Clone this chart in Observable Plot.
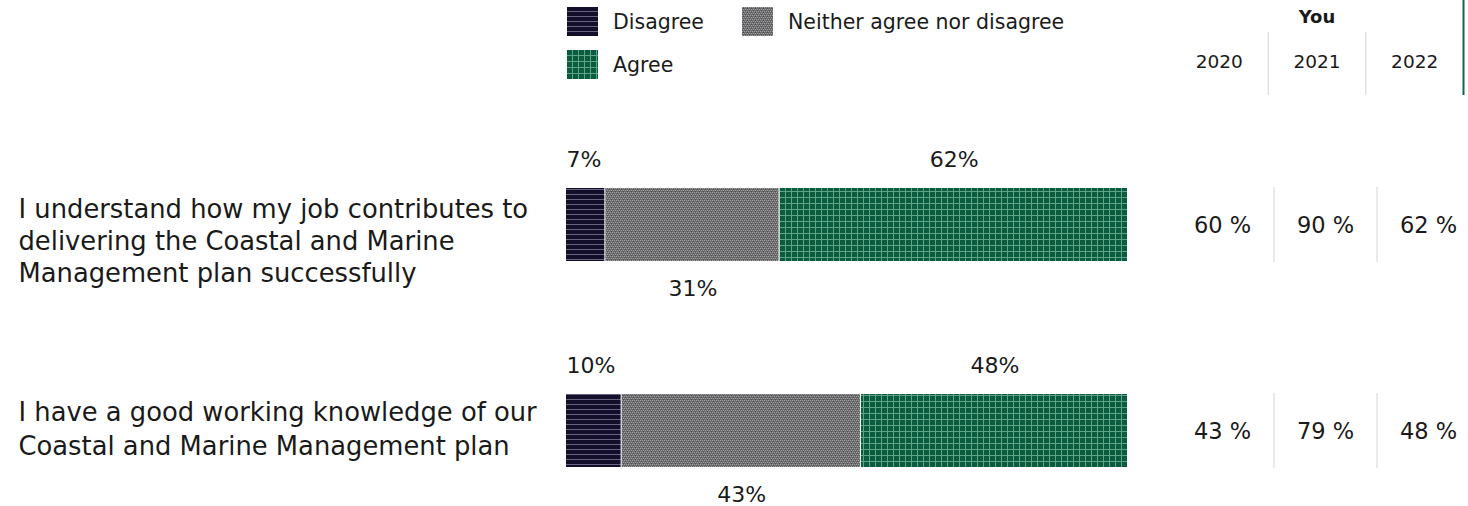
<!DOCTYPE html>
<html><head><meta charset="utf-8">
<script src="https://cdn.jsdelivr.net/npm/d3@7"></script>
<script src="https://cdn.jsdelivr.net/npm/@observablehq/plot@0.6"></script>
<style>
html,body{margin:0;padding:0;background:#fff;}
#chart{position:relative;width:1468px;height:506px;font-family:"DejaVu Sans",sans-serif;color:#1a1a1a;overflow:hidden;}
#chart svg.layer{position:absolute;left:0;top:0;}
.lg{position:absolute;display:flex;align-items:center;font-size:20.5px;white-space:nowrap;height:29px;}
.lg svg{margin-right:15px;flex:none;}
</style></head><body>
<svg width="0" height="0" style="position:absolute">
<defs>
<pattern id="pDis" width="6" height="5" patternUnits="userSpaceOnUse">
<rect width="6" height="5" fill="#130f2b"/>
<rect y="4" width="6" height="1" fill="#66627f"/>
</pattern>
<pattern id="pNei" width="4" height="4" patternUnits="userSpaceOnUse">
<rect width="4" height="4" fill="#6b6b6d"/>
<rect x="0" y="0" width="1" height="1" fill="#a0a0a0"/>
<rect x="2" y="0" width="1" height="1" fill="#a0a0a0"/>
<rect x="1" y="2" width="1" height="1" fill="#a0a0a0"/>
<rect x="3" y="2" width="1" height="1" fill="#a0a0a0"/>
<rect x="1" y="1" width="1" height="1" fill="#4e4e50"/>
<rect x="3" y="3" width="1" height="1" fill="#4e4e50"/>
</pattern>
<pattern id="pAgr" width="6" height="6" patternUnits="userSpaceOnUse">
<rect width="6" height="6" fill="#0b5c3f"/>
<rect x="5" width="1" height="6" fill="#5fa487"/>
<rect y="5" width="6" height="1" fill="#5fa487"/>
</pattern>
</defs>
</svg>
<div id="chart"></div>
<script>
// ---- data ----
const questions = [
  "I understand how my job contributes to delivering the Coastal and Marine Management plan successfully",
  "I have a good working knowledge of our Coastal and Marine Management plan"
];
const questionLines = [
  ["I understand how my job contributes to", "delivering the Coastal and Marine", "Management plan successfully"],
  ["I have a good working knowledge of our", "Coastal and Marine Management plan"]
];
const categories = ["Disagree", "Neither agree nor disagree", "Agree"];
const disagree = [7, 10];
const neither = [31, 43];
const agree = [62, 48];
const years = ["2020", "2021", "2022"];
const you2020 = [60, 43];
const you2021 = [90, 79];
const you2022 = [62, 48];
const tableTitle = "You";

// ---- derived tables ----
const patternOf = {"Disagree": "url(#pDis)", "Neither agree nor disagree": "url(#pNei)", "Agree": "url(#pAgr)"};
const seriesVals = [disagree, neither, agree];
const rows = [];
questions.forEach((q, qi) => categories.forEach((c, ci) => rows.push({q, cat: c, v: seriesVals[ci][qi]})));
const youVals = [you2020, you2021, you2022];
const tableRows = [];
questions.forEach((q, qi) => years.forEach((y, yi) => tableRows.push({q, year: y, i: yi, v: youVals[yi][qi]})));

const FONT = '"DejaVu Sans", sans-serif';
const INK = "#1a1a1a";
const yRange = [121.25, 534.25];
const chart = document.getElementById("chart");

const stackOpts = {x: "v", y: "q", z: "cat", offset: "normalize"};
const qLabel = (i, dy, lh) => Plot.text([questions[i]], {
  y: d => d, text: () => questionLines[i].join("\n"),
  frameAnchor: "left", textAnchor: "start", dx: -548, dy,
  fontSize: 25.8, lineHeight: lh, fill: INK
});

const main = Plot.plot({
  width: 1468, height: 506,
  marginLeft: 566, marginRight: 340, marginTop: 0, marginBottom: 0,
  x: {domain: [0, 1], axis: null},
  y: {domain: questions, range: yRange, padding: 0, axis: null},
  color: {type: "identity"},
  style: {fontFamily: FONT, color: INK, background: "transparent", overflow: "visible"},
  marks: [
    Plot.barX(rows, Plot.stackX({...stackOpts, fill: d => patternOf[d.cat], insetTop: 66, insetBottom: 67, insetRight: 1})),
    Plot.text(rows, Plot.stackX1({...stackOpts, text: d => d.cat === "Disagree" ? d.v + "%" : null, textAnchor: "start", dy: -66, fontSize: 22, fill: INK})),
    Plot.text(rows, Plot.stackX({...stackOpts, text: d => d.cat === "Agree" ? d.v + "%" : null, dy: -66, fontSize: 22, fill: INK})),
    Plot.text(rows, Plot.stackX({...stackOpts, text: d => d.cat === "Neither agree nor disagree" ? d.v + "%" : null, dy: 63, fontSize: 22, fill: INK})),
    qLabel(0, 14, 1.24),
    qLabel(1, -4, 1.32)
  ]
});
main.classList.add("layer");
chart.appendChild(main);

const table = Plot.plot({
  width: 1468, height: 506, margin: 0,
  x: {domain: [0, years.length], range: [1170.5, 1479.5], axis: null},
  y: {domain: questions, range: yRange, padding: 0, axis: null},
  style: {fontFamily: FONT, color: INK, background: "transparent", overflow: "visible"},
  marks: [
    Plot.tickX(tableRows.filter(d => d.i > 0), {x: "i", y: "q", stroke: "#d4d4d4", strokeWidth: 1, insetTop: 65, insetBottom: 66}),
    Plot.text(tableRows, {x: d => d.i + 0.5, y: "q", text: d => d.v + " %", fontSize: 22.5, fill: INK})
  ]
});
table.classList.add("layer");
chart.appendChild(table);

const header = Plot.plot({
  width: 1468, height: 100, margin: 0,
  x: {domain: [0, years.length], range: [1170, 1463], axis: null},
  style: {fontFamily: FONT, color: INK, background: "transparent", overflow: "visible"},
  marks: [
    Plot.ruleX(years.slice(1).map((y, i) => i + 1), {x: d => d, stroke: "#d4d4d4", strokeWidth: 1, insetTop: 32, insetBottom: 5}),
    Plot.ruleX([years.length], {x: d => d, stroke: "#0b6b47", strokeWidth: 2, insetBottom: 5}),
    Plot.text(years, {x: (d, i) => i + 0.5, text: d => d, frameAnchor: "top", dy: 62, lineAnchor: "middle", fontSize: 18.5, fill: INK}),
    Plot.text([tableTitle], {x: years.length / 2, text: d => d, frameAnchor: "top", dy: 17, lineAnchor: "middle", fontSize: 18, fontWeight: "bold", fill: INK})
  ]
});
header.classList.add("layer");
chart.appendChild(header);

// legend
const legendPos = [[567, 7], [742, 7], [567, 50]];
categories.forEach((c, i) => {
  const div = document.createElement("div");
  div.className = "lg";
  div.style.left = legendPos[i][0] + "px";
  div.style.top = legendPos[i][1] + "px";
  div.innerHTML = `<svg width="31" height="29"><rect width="31" height="29" fill="${patternOf[c]}"/></svg><span>${c}</span>`;
  chart.appendChild(div);
});
</script>
</body></html>
